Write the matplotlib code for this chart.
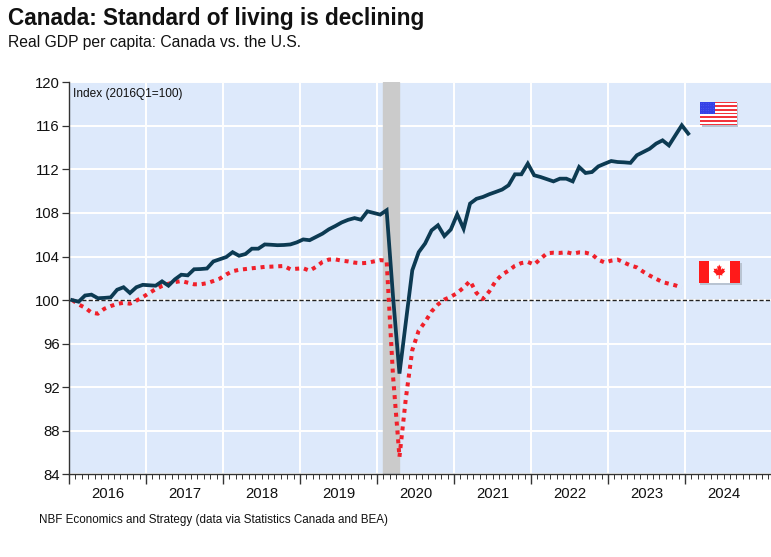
import numpy as np
import matplotlib
matplotlib.use('Agg')
import matplotlib.pyplot as plt
from matplotlib.patches import Rectangle, Polygon, Circle

plt.rcParams['font.family'] = ['Liberation Sans', 'DejaVu Sans']

# monthly index, Jan 2016 = month 0 (2016Q1 = 100)
usa = [100.0, 99.85, 100.42, 100.5, 100.17, 100.2, 100.25, 100.95, 101.18, 100.65,
       101.18, 101.4, 101.36, 101.32, 101.72, 101.32, 101.9, 102.33, 102.27, 102.83,
       102.85, 102.9, 103.55, 103.75, 103.95, 104.4, 104.07, 104.23, 104.72, 104.72,
       105.11, 105.08, 105.04, 105.06, 105.11, 105.3, 105.57, 105.5, 105.8, 106.1,
       106.5, 106.8, 107.13, 107.37, 107.53, 107.38, 108.15, 108.0, 107.85, 108.25,
       100.3, 93.25, 98.0, 102.74, 104.4, 105.2, 106.4, 106.87, 105.88, 106.48,
       107.88, 106.55, 108.86, 109.3, 109.47, 109.72, 109.93, 110.15, 110.54, 111.55,
       111.55, 112.53, 111.46, 111.3, 111.1, 110.9, 111.15, 111.15, 110.9, 112.22,
       111.67, 111.76, 112.28, 112.53, 112.77, 112.68, 112.65, 112.6, 113.3, 113.6,
       113.9, 114.37, 114.67, 114.2, 115.13, 116.05, 115.29]

canada = [100.0, 99.6, 99.3, 98.85, 98.75, 99.2, 99.45, 99.65, 99.75, 99.67,
          99.95, 100.27, 100.65, 101.0, 101.3, 101.5, 101.65, 101.75, 101.6, 101.45,
          101.45, 101.55, 101.75, 101.97, 102.35, 102.65, 102.78, 102.85, 102.92, 102.98,
          103.05, 103.07, 103.1, 103.13, 102.83, 102.88, 102.92, 102.7, 103.05, 103.5,
          103.72, 103.74, 103.62, 103.55, 103.44, 103.38, 103.42, 103.55, 103.67, 103.62,
          93.0, 85.6, 91.0, 95.4, 97.2, 98.0, 98.95, 99.6, 100.05, 100.3,
          100.65, 101.15, 101.75, 100.66, 100.1, 100.8, 101.75, 102.35, 102.7, 103.15,
          103.4, 103.5, 103.26, 103.8, 104.3, 104.35, 104.33, 104.4, 104.26, 104.38,
          104.35, 104.2, 103.7, 103.45, 103.62, 103.72, 103.45, 103.18, 103.0, 102.6,
          102.25, 101.95, 101.65, 101.5, 101.35, 101.15]

years = list(range(2016, 2025))
yticks = list(range(84, 121, 4))
recession = (2020 + 1 / 12, 2020 + 3.5 / 12)

x_us = 2016 + (np.arange(len(usa)) + 0.5) / 12
x_ca = 2016 + (np.arange(len(canada)) + 0.5) / 12

W, H = 771, 557
fig = plt.figure(figsize=(W / 100, H / 100), dpi=100)
ax = fig.add_axes([69 / W, 1 - 474.3 / H, 702 / W, (474.3 - 82.3) / H])
ax.set_facecolor('#dde9fb')

ax.axvspan(recession[0], recession[1], color='#cbcbcb', zorder=1)
ax.axhline(100, color='#222222', lw=1.0, ls=(0, (3, 1.6)), zorder=2)
ax.plot(x_ca, canada, color='#f0202a', lw=2.9, ls=(0, (1.0, 1.2)),
        dash_capstyle='butt', zorder=3)
ax.plot(x_us, usa, color='#0c3a52', lw=2.7, solid_joinstyle='miter', zorder=4)

ax.set_xlim(2016, 2016 + 702 / 77)
ax.set_ylim(84, 120)
ax.set_yticks(yticks)
ax.set_xticks(years)
ax.set_xticks(2016 + np.arange(0, 110) / 12, minor=True)
ax.set_xticklabels([])
# year labels centred between the year ticks
for y in years:
    ax.text(y + 0.5, -0.032, str(y), transform=ax.get_xaxis_transform(),
            ha='center', va='top', fontsize=10.7, color='#111111')
ax.grid(True, which='major', color='white', lw=1.4, zorder=0)
ax.set_axisbelow(True)
for s in ['top', 'right']:
    ax.spines[s].set_visible(False)
for s in ['left', 'bottom']:
    ax.spines[s].set_color('#333333')
    ax.spines[s].set_linewidth(1.0)
ax.tick_params(axis='y', direction='out', length=5, width=0.9, color='#333333',
               labelsize=10.7, labelcolor='#111111', pad=1.5)
ax.tick_params(axis='x', which='major', direction='out', length=7, width=1.0,
               color='#333333')
ax.tick_params(axis='x', which='minor', direction='out', length=3.5, width=0.7,
               color='#333333')

fig.text(8 / W, 1 - 19 / H, 'Canada: Standard of living is declining',
         fontsize=16.3, fontweight='bold', va='center', color='#111111')
fig.text(8 / W, 1 - 42 / H, 'Real GDP per capita: Canada vs. the U.S.',
         fontsize=11.3, va='center', color='#111111')
fig.text(73 / W, 1 - 94 / H, 'Index (2016Q1=100)', fontsize=8.6, va='center',
         color='#111111')
fig.text(39 / W, 1 - 520 / H,
         'NBF Economics and Strategy (data via Statistics Canada and BEA)',
         fontsize=8.4, va='center', color='#111111')


def flag_axes(x0, y0, x1, y1):
    shadow = fig.add_axes([(x0 + 1.5) / W, 1 - (y1 + 1.5) / H, (x1 - x0) / W, (y1 - y0) / H])
    shadow.axis('off')
    shadow.add_patch(Rectangle((0, 0), 1, 1, color='#b9c4d2'))
    fa = fig.add_axes([x0 / W, 1 - y1 / H, (x1 - x0) / W, (y1 - y0) / H])
    fa.set_xlim(0, 1)
    fa.set_ylim(0, 1)
    fa.axis('off')
    return fa


# U.S. flag
fa = flag_axes(700, 101.5, 736.5, 125.5)
for i in range(13):
    c = '#f2343c' if i % 2 == 0 else 'white'
    fa.add_patch(Rectangle((0, 1 - (i + 1) / 13), 1, 1 / 13, color=c, lw=0))
fa.add_patch(Rectangle((0, 6 / 13), 0.4, 7 / 13, color='#3441e6', lw=0))
for r in range(5):
    for c in range(6):
        fa.add_patch(Circle((0.035 + c * 0.066, 0.52 + r * 0.1), 0.008,
                            color='#aab4ff', lw=0))

# Canadian flag
fa = flag_axes(698.5, 261, 740, 283)
fa.add_patch(Rectangle((0, 0), 1, 1, color='white', lw=0))
fa.add_patch(Rectangle((0, 0), 0.25, 1, color='#ff1a1a', lw=0))
fa.add_patch(Rectangle((0.75, 0), 0.25, 1, color='#ff1a1a', lw=0))
half = [(0, 1.0), (0.13, 0.72), (0.28, 0.82), (0.22, 0.3), (0.42, 0.55), (0.48, 0.42),
        (0.75, 0.48), (0.65, 0.22), (0.8, 0.12), (0.38, -0.22), (0.44, -0.38),
        (0.06, -0.32), (0.06, -0.8), (0, -0.8)]
leaf = half + [(-px, py) for px, py in reversed(half)]
sx, sy = 7.5 / 41.5, 8.0 / 22
fa.add_patch(Polygon([(0.5 + px * sx, 0.48 + py * sy) for px, py in leaf],
                     closed=True, color='#ff1a1a', lw=0))

fig.savefig('out.png', dpi=100)
